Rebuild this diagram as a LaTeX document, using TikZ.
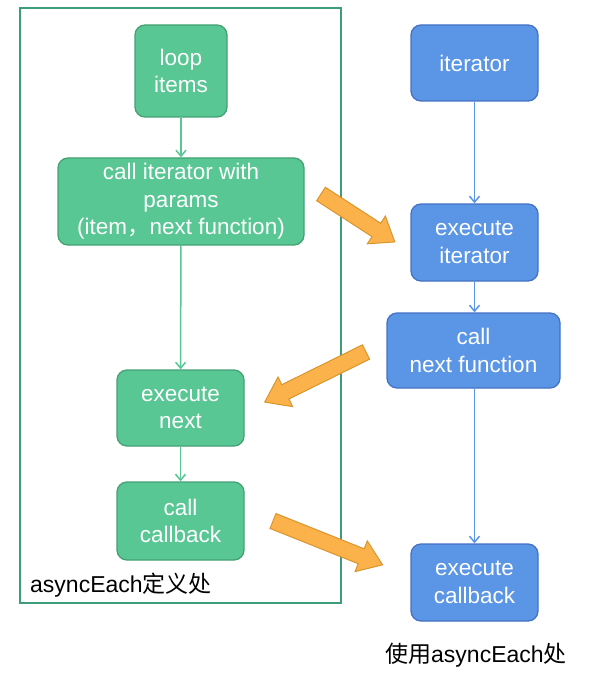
\documentclass[tikz,border=0pt]{standalone}
\usepackage{fontspec}
\setmainfont{Liberation Sans}
\newfontfamily\cjk{Noto Sans CJK SC}
\usetikzlibrary{arrows.meta}
\definecolor{gfill}{HTML}{58C794}
\definecolor{gline}{HTML}{45A175}
\definecolor{bfill}{HTML}{5B95E5}
\definecolor{bline}{HTML}{4472C4}
\definecolor{frame}{HTML}{3F9C78}
\definecolor{ofill}{HTML}{FBB24A}
\definecolor{oline}{HTML}{D9952E}
\begin{document}
\begin{tikzpicture}[x=1pt,y=1pt,
  box/.style={rounded corners=10pt, line width=1.3pt, text=white, align=center,
    font=\fontsize{22.5}{27.5}\selectfont, inner sep=0pt},
  gbox/.style={box, draw=gline, fill=gfill},
  bbox/.style={box, draw=bline, fill=bfill},
  garrow/.style={draw=gfill, line width=1.5pt, -{Straight Barb[length=6pt,width=10pt]}},
  barrow/.style={draw=bfill, line width=1.5pt, -{Straight Barb[length=6pt,width=10pt]}},
  blockarrow/.style={fill=ofill, draw=oline, line width=1pt, line join=miter},
  lbl/.style={font=\fontsize{23}{26}\selectfont, text=black, inner sep=0pt}]
\useasboundingbox (0,0) rectangle (596,-679);
\fill[white] (0,0) rectangle (596,-679);
% frame
\draw[frame, line width=1.3pt] (20,-8) rectangle (341,-603);
% green nodes
\node[gbox, minimum width=92pt, minimum height=92pt] (loop) at (181,-71) {loop\\items};
\node[gbox, minimum width=246pt, minimum height=87pt] (call) at (181,-201.5) {call iterator with\\params\\(item{\cjk ，}next function)};
\node[gbox, minimum width=127pt, minimum height=76pt] (exnext) at (180.5,-408) {execute\\next};
\node[gbox, minimum width=127pt, minimum height=78pt] (cb) at (180.5,-521) {call\\callback};
% blue nodes
\node[bbox, minimum width=127pt, minimum height=76pt] (iter) at (474.5,-63) {iterator};
\node[bbox, minimum width=127pt, minimum height=77pt] (exiter) at (474.5,-242.5) {execute\\iterator};
\node[bbox, minimum width=173pt, minimum height=75pt] (callnext) at (473.5,-350.5) {call\\next function};
\node[bbox, minimum width=127pt, minimum height=77pt] (excb) at (474.5,-582.5) {execute\\callback};
% connectors
\draw[garrow] (loop) -- (call);
\draw[garrow] (call) -- (exnext);
\draw[garrow] (exnext) -- (cb);
\draw[barrow] (iter.south) -- (exiter.north);
\draw[barrow] (exiter.south) -- (exiter.south |- callnext.north);
\draw[barrow] (exiter.south |- callnext.south) -- (excb.north);
% labels
\node[lbl, anchor=west] (deflbl) at (30,-585) {asyncEach{\cjk 定义处}};
\node[lbl, anchor=west] (uselbl) at (385,-655) {{\cjk 使用}asyncEach{\cjk 处}};
% block arrows
\begin{scope}[shift={(321,-194)}, rotate=-33]
\draw[blockarrow] (0,-8) -- (66,-8) -- (66,-16.5) -- (88,0) -- (66,16.5) -- (66,8) -- (0,8) -- cycle;
\end{scope}
\begin{scope}[shift={(366,-352)}, rotate=206.3]
\draw[blockarrow] (0,-8) -- (90,-8) -- (90,-16.5) -- (113,0) -- (90,16.5) -- (90,8) -- (0,8) -- cycle;
\end{scope}
\begin{scope}[shift={(273,-521)}, rotate=-21.8]
\draw[blockarrow] (0,-8) -- (95,-8) -- (95,-16.5) -- (118,0) -- (95,16.5) -- (95,8) -- (0,8) -- cycle;
\end{scope}
\end{tikzpicture}
\end{document}
